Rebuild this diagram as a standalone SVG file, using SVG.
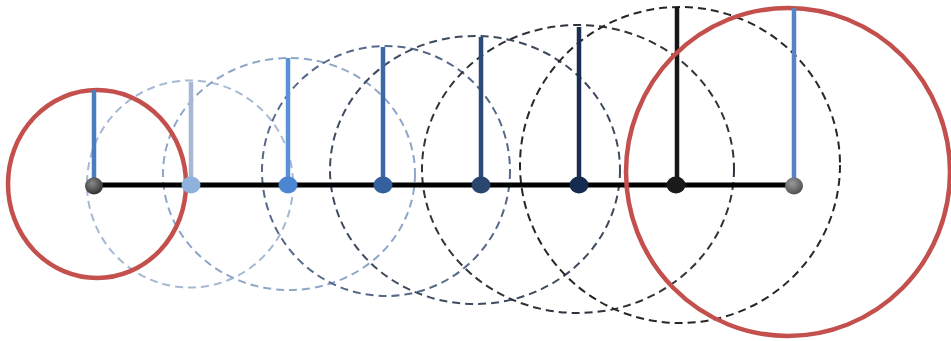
<svg xmlns="http://www.w3.org/2000/svg" width="951" height="341" viewBox="0 0 951 341">
<defs>
<radialGradient id="gDark" cx="0.4" cy="0.35" r="0.7"><stop offset="0" stop-color="#8a8a8a"/><stop offset="1" stop-color="#2a2a2a"/></radialGradient>
<radialGradient id="gGray" cx="0.4" cy="0.35" r="0.7"><stop offset="0" stop-color="#9a9a9a"/><stop offset="1" stop-color="#4a4a4a"/></radialGradient>
<style>
.wave{fill:none;stroke-width:2;stroke-dasharray:8 5}
.red{fill:none;stroke:#c4504d;stroke-width:4.5}
.stem{stroke-width:4.5;fill:none}
.axis{stroke:#000;stroke-width:5;fill:none}
</style>
</defs>
<rect width="951" height="341" fill="#fff"/>
<g id="wavefronts">
<ellipse class="wave" cx="190" cy="184" rx="103" ry="103.5" stroke="#a6b9d3"/>
<ellipse class="wave" cx="289" cy="174" rx="126" ry="116" stroke="#8ea6c8"/>
<ellipse class="wave" cx="386" cy="171" rx="124" ry="125" stroke="#56698a"/>
<ellipse class="wave" cx="475" cy="170" rx="145" ry="134" stroke="#3e4a5e"/>
<ellipse class="wave" cx="578" cy="169" rx="156" ry="144" stroke="#2e333c"/>
<ellipse class="wave" cx="680" cy="165" rx="160" ry="158" stroke="#262626"/>
</g>
<g id="connectors">
<line class="axis" x1="94" y1="185" x2="794" y2="185"/>
</g>
<g id="node1">
<ellipse class="red" cx="97" cy="184" rx="89" ry="94"/>
<line class="stem" x1="94" y1="90" x2="94" y2="185" stroke="#4a7cc0"/>
<ellipse cx="94" cy="186" rx="9" ry="8.5" fill="url(#gDark)"/>
</g>
<g id="node2">
<line class="stem" x1="191" y1="82" x2="191" y2="185" stroke="#a6b8d2"/>
<ellipse cx="191" cy="185" rx="9.5" ry="8.5" fill="#8fb2dc"/>
</g>
<g id="node3">
<line class="stem" x1="288" y1="58" x2="288" y2="185" stroke="#5a90d8"/>
<ellipse cx="288" cy="185" rx="9.5" ry="8.5" fill="#4a86d2"/>
</g>
<g id="node4">
<line class="stem" x1="383" y1="47" x2="383" y2="185" stroke="#3a68a8"/>
<ellipse cx="383" cy="185" rx="9.5" ry="8.5" fill="#34619e"/>
</g>
<g id="node5">
<line class="stem" x1="481" y1="37" x2="481" y2="185" stroke="#2a4a78"/>
<ellipse cx="481" cy="185" rx="9.5" ry="8.5" fill="#284670"/>
</g>
<g id="node6">
<line class="stem" x1="579" y1="27" x2="579" y2="185" stroke="#1a2e52"/>
<ellipse cx="579" cy="185" rx="9.5" ry="8.5" fill="#162b50"/>
</g>
<g id="node7">
<line class="stem" x1="677" y1="7" x2="677" y2="185" stroke="#161616"/>
<ellipse cx="676" cy="185" rx="9.5" ry="8.5" fill="#1a1a1a"/>
</g>
<g id="node8">
<ellipse class="red" cx="788" cy="172" rx="162" ry="164"/>
<line class="stem" x1="794" y1="8" x2="794" y2="185" stroke="#5585c8"/>
<ellipse cx="794" cy="186" rx="9" ry="8.5" fill="url(#gGray)"/>
</g>
</svg>
